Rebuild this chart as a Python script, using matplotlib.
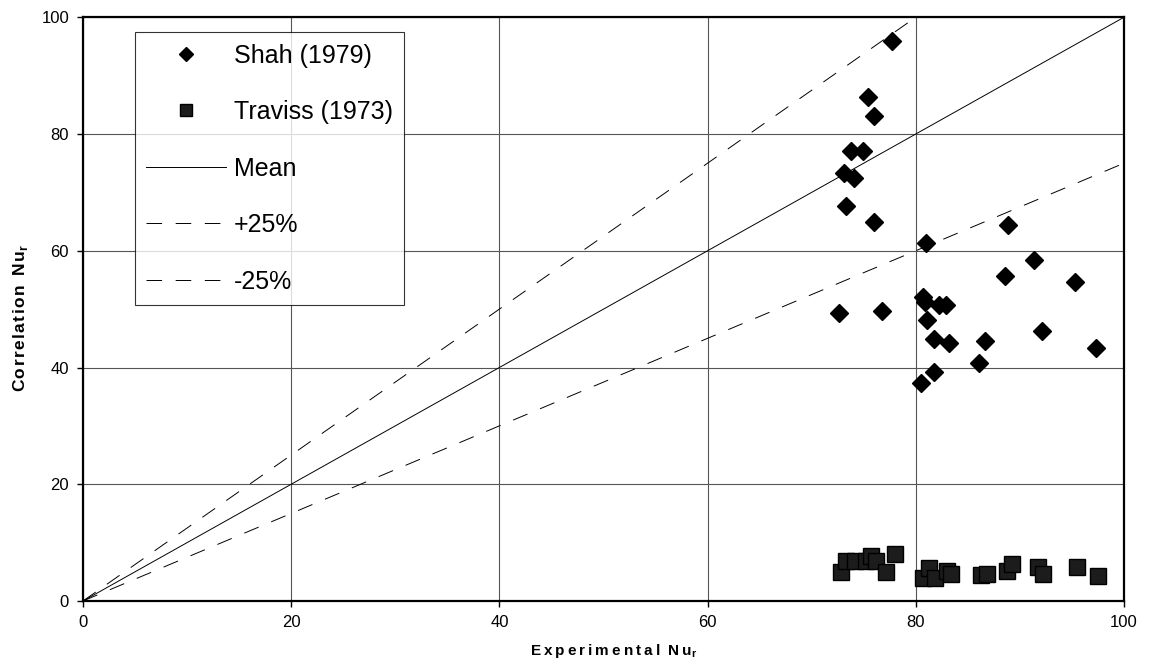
import matplotlib.pyplot as plt
import numpy as np

plt.rcParams['font.family'] = ['Liberation Sans', 'DejaVu Sans']
plt.rcParams['mathtext.fontset'] = 'custom'
plt.rcParams['mathtext.rm'] = 'Liberation Sans'
plt.rcParams['mathtext.bf'] = 'Liberation Sans:bold'

# Shah (1979): experimental vs correlation Nu
shah_exp = [77.7, 75.4, 76.0, 73.8, 74.9, 73.1, 74.1, 73.3, 76.0, 88.9,
            81.0, 91.4, 88.6, 95.3, 72.6, 76.8, 80.7, 80.9, 82.2, 82.9,
            81.1, 81.7, 83.2, 86.6, 92.1, 97.3, 86.1, 81.7, 80.5]
shah_corr = [96.0, 86.4, 83.0, 77.1, 77.1, 73.4, 72.4, 67.7, 65.0, 64.4,
             61.3, 58.4, 55.7, 54.7, 49.3, 49.6, 52.0, 51.3, 50.7, 50.7,
             48.2, 44.9, 44.2, 44.6, 46.3, 43.3, 40.8, 39.2, 37.4]

# Traviss (1973)
traviss_exp = [72.8, 73.3, 74.2, 75.2, 75.7, 76.2, 77.1, 78.0, 80.7, 81.3,
               81.8, 83.0, 83.4, 86.3, 86.8, 88.8, 89.2, 91.7, 92.2, 95.5, 97.5]
traviss_corr = [5.0, 6.9, 6.9, 6.9, 7.7, 6.9, 5.0, 8.0, 4.0, 5.6,
                4.0, 5.2, 4.6, 4.4, 4.7, 5.2, 6.4, 5.9, 4.7, 5.8, 4.3]

line_x = [0, 100]
ticks = [0, 20, 40, 60, 80, 100]


def spaced(word, gap='\u200a'):
    # wide letter tracking like the original axis titles
    return gap.join(word)


fig = plt.figure(figsize=(11.57, 6.63), dpi=100)
ax = fig.add_axes([0.0717, 0.0935, 0.8998, 0.8805])

ax.plot(shah_exp, shah_corr, 'D', color='black', markersize=9.5,
        label='Shah (1979)', zorder=4)
ax.plot(traviss_exp, traviss_corr, 's', color='#1c1c1c', markersize=11,
        markeredgecolor='black', label='Traviss (1973)', zorder=3)
ax.plot(line_x, line_x, '-', color='black', lw=0.7, label='Mean')
ax.plot(line_x, [1.25 * v for v in line_x], color='black', lw=0.7,
        linestyle=(0, (16, 14)), label='+25%')
ax.plot(line_x, [0.75 * v for v in line_x], color='black', lw=0.7,
        linestyle=(0, (16, 14)), label='-25%')

ax.set_xlim(0, 100)
ax.set_ylim(0, 100)
ax.set_xticks(ticks)
ax.set_yticks(ticks)
ax.grid(True, color='#555555', lw=0.8)
ax.set_axisbelow(True)
ax.tick_params(labelsize=12, direction='out', length=4, width=1, pad=6)
for s in ax.spines.values():
    s.set_linewidth(1.6)

ax.set_xlabel(spaced('Experimental', '\u2009') + '  ' + spaced('Nu', '\u2009')
              + '$_\\mathbf{r}$', fontsize=11, fontweight='bold')
ax.set_ylabel(spaced('Correlation') + '  ' + spaced('Nu') + '$_\\mathbf{r}$',
              fontsize=12.5, fontweight='bold')
ax.xaxis.set_label_coords(0.51, -0.071)
ax.yaxis.set_label_coords(-0.051, 0.485)

leg = ax.legend(loc='upper left', bbox_to_anchor=(0.05, 0.974),
                borderaxespad=0, fontsize=18, frameon=True, fancybox=False,
                edgecolor='black', handlelength=3.2, handletextpad=0.3,
                labelspacing=1.3, borderpad=0.45, markerscale=0.8)
leg.get_frame().set_linewidth(0.8)

fig.savefig('out.png', dpi=100)
